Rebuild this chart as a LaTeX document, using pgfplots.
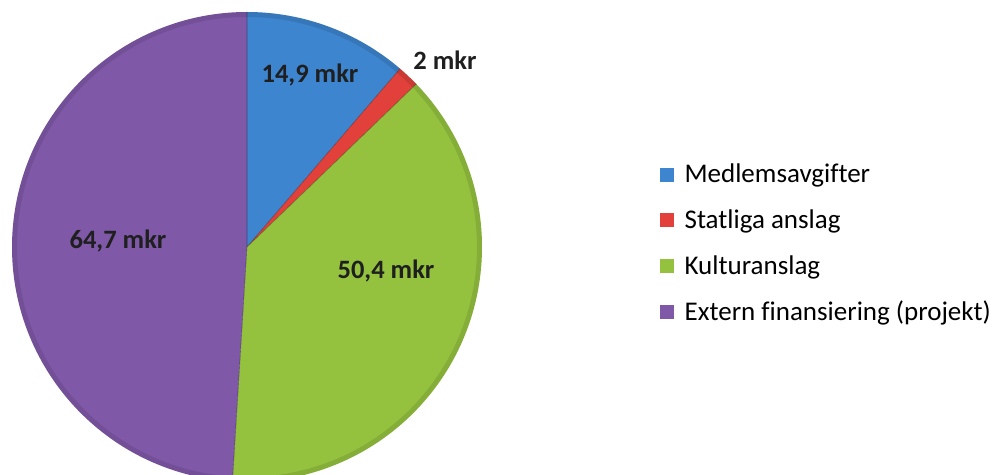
\documentclass[border=0pt]{standalone}
\usepackage{pgfplots}
\pgfplotsset{compat=1.18}
\usepackage{fontspec}
\setmainfont[Ligatures=NoCommon]{Carlito}
\definecolor{cblue}{HTML}{3D85CF}
\definecolor{cred}{HTML}{E2413B}
\definecolor{cgreen}{HTML}{94C23F}
\definecolor{cpurple}{HTML}{7F59A8}
\begin{document}
\begin{tikzpicture}[x=1pt,y=1pt]
% values (mkr)
\pgfmathsetmacro\vA{14.9}
\pgfmathsetmacro\vB{2}
\pgfmathsetmacro\vC{50.4}
\pgfmathsetmacro\vD{64.7}
\pgfmathsetmacro\tot{\vA+\vB+\vC+\vD}
\pgfmathsetmacro\aA{90}
\pgfmathsetmacro\aB{\aA-\vA/\tot*360}
\pgfmathsetmacro\aC{\aB-\vB/\tot*360}
\pgfmathsetmacro\aD{\aC-\vC/\tot*360}
\pgfmathsetmacro\aE{\aD-\vD/\tot*360}
\def\cx{247}\def\cy{227}\def\R{235}
\pgfmathsetmacro\xA{\cx+\R*cos(\aA)}\pgfmathsetmacro\yA{\cy+\R*sin(\aA)}
\pgfmathsetmacro\xB{\cx+\R*cos(\aB)}\pgfmathsetmacro\yB{\cy+\R*sin(\aB)}
\pgfmathsetmacro\xC{\cx+\R*cos(\aC)}\pgfmathsetmacro\yC{\cy+\R*sin(\aC)}
\pgfmathsetmacro\xD{\cx+\R*cos(\aD)}\pgfmathsetmacro\yD{\cy+\R*sin(\aD)}
\begin{axis}[at={(0,0)},anchor=south west,width=998pt,height=474pt,scale only axis,
  xmin=0,xmax=998,ymin=0,ymax=474,hide axis,clip=true,
  legend image code/.code={\fill[#1] (0pt,-6.5pt) rectangle (13pt,6.5pt); \path (23pt,0pt);},
  legend style={at={(axis cs:660,311)},anchor=north west,draw=none,fill=none,
    font=\fontsize{27}{31}\selectfont,row sep=23.3pt,inner sep=0pt,
    nodes={inner sep=1pt}},
  legend cell align=left]
\addlegendimage{cblue}\addlegendentry{Medlemsavgifter}
\addlegendimage{cred}\addlegendentry{Statliga anslag}
\addlegendimage{cgreen}\addlegendentry{Kulturanslag}
\addlegendimage{cpurple}\addlegendentry{Extern finansiering (projekt)}
\fill[cblue] (axis cs:\cx,\cy) -- (axis cs:\xA,\yA) arc[start angle=\aA,end angle=\aB,radius=\R pt] -- cycle;
\fill[cred] (axis cs:\cx,\cy) -- (axis cs:\xB,\yB) arc[start angle=\aB,end angle=\aC,radius=\R pt] -- cycle;
\fill[cgreen] (axis cs:\cx,\cy) -- (axis cs:\xC,\yC) arc[start angle=\aC,end angle=\aD,radius=\R pt] -- cycle;
\fill[cpurple] (axis cs:\cx,\cy) -- (axis cs:\xD,\yD) arc[start angle=\aD,end angle=\aE,radius=\R pt] -- cycle;
\draw[black,opacity=0.10,line width=5pt] (axis cs:\cx,\cy) circle[radius=232.5pt];
\draw[black,opacity=0.35,line width=0.6pt] (axis cs:\cx,\cy) -- (axis cs:\xA,\yA)
  (axis cs:\cx,\cy) -- (axis cs:\xB,\yB) (axis cs:\cx,\cy) -- (axis cs:\xC,\yC)
  (axis cs:\cx,\cy) -- (axis cs:\xD,\yD);
\node[font=\bfseries\fontsize{26.5}{30}\selectfont,text=black!88] at (axis cs:310,399) {14,9 mkr};
\node[font=\bfseries\fontsize{26.5}{30}\selectfont,text=black!88] at (axis cs:445,414) {2 mkr};
\node[font=\bfseries\fontsize{26.5}{30}\selectfont,text=black!88] at (axis cs:386,203) {50,4 mkr};
\node[font=\bfseries\fontsize{26.5}{30}\selectfont,text=black!88] at (axis cs:118,233) {64,7 mkr};
\end{axis}
\pgfresetboundingbox
\useasboundingbox (0,0) rectangle (998,474);
\end{tikzpicture}
\end{document}
